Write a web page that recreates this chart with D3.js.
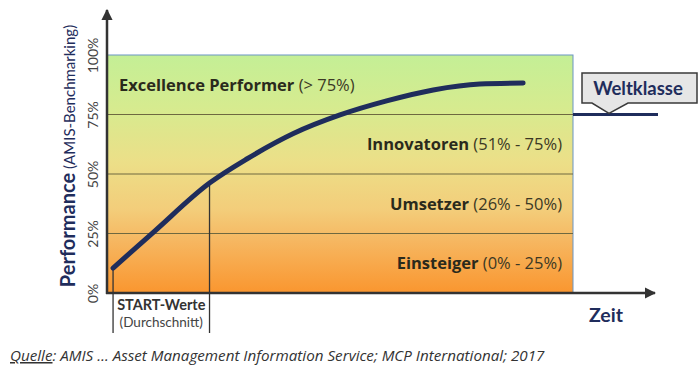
<!DOCTYPE html>
<html>
<head>
<meta charset="utf-8">
<script src="https://cdn.jsdelivr.net/npm/d3@7"></script>
<style>
  body { margin: 0; background: #fff; }
  svg { display: block; font-family: Lato, "Open Sans", sans-serif; }
</style>
</head>
<body>
<div id="chart"></div>
<script>
// performance curve over time (time in arbitrary units 0..10, performance in %)
const curveTime = [0.13, 1, 2.2, 3, 4, 5, 6, 7, 8, 8.93];
const curvePerf = [10.5, 25.6, 46.2, 56.3, 67.0, 74.8, 80.7, 85.3, 87.8, 88.2];

// performance bands (bottom to top)
const bandBounds = [0, 25, 50, 75, 100];
const bandNames = ["Einsteiger", "Umsetzer", "Innovatoren", "Excellence Performer"];
const bandRanges = ["(0% - 25%)", "(26% - 50%)", "(51% - 75%)", "(> 75%)"];

const yTicks = [0, 25, 50, 75, 100];
const startMarks = [0.13, 2.2];   // START-Werte bracket
const worldClass = 75;            // Weltklasse level

const width = 698, height = 376;
const plot = {left: 107, right: 573, top: 55, bottom: 293};
const navy = "#1f2d5c";
const openSans = "'Open Sans', Lato, sans-serif";

const svg = d3.select("#chart").append("svg")
  .attr("width", width)
  .attr("height", height);

const x = d3.scaleLinear().domain([0, 10]).range([plot.left, plot.right]);
const y = d3.scaleLinear().domain([0, 100]).range([plot.bottom, plot.top]);

// background gradient
const defs = svg.append("defs");
const grad = defs.append("linearGradient")
  .attr("id", "bg").attr("x1", 0).attr("y1", 0).attr("x2", 0).attr("y2", 1);
[["0%", "#c4ef96"], ["22%", "#d6eb8f"], ["45%", "#ecdf88"], ["65%", "#f3cd7a"],
 ["78%", "#f6b761"], ["100%", "#fa962f"]].forEach(function(s) {
  grad.append("stop").attr("offset", s[0]).attr("stop-color", s[1]);
});

defs.append("marker")
  .attr("id", "arrow")
  .attr("viewBox", "0 0 10 10")
  .attr("refX", 9).attr("refY", 5)
  .attr("markerWidth", 4.5).attr("markerHeight", 4.5)
  .attr("orient", "auto")
  .append("path")
  .attr("d", "M0,0 L10,5 L0,10 Z")
  .attr("fill", "#333");

svg.append("rect")
  .attr("x", x(0)).attr("y", y(100))
  .attr("width", x(10) - x(0)).attr("height", y(0) - y(100))
  .attr("fill", "url(#bg)")
  .attr("stroke", "#6b95c4").attr("stroke-width", 1);

// band separator lines
svg.selectAll(".band-line")
  .data(bandBounds.slice(1, -1))
  .enter().append("line")
  .attr("class", "band-line")
  .attr("x1", x(0)).attr("x2", x(10))
  .attr("y1", d => y(d)).attr("y2", d => y(d))
  .attr("stroke", "#6e6840").attr("stroke-width", 1);

// band labels
const labels = svg.selectAll(".band-label")
  .data(bandNames)
  .enter().append("text")
  .attr("class", "band-label")
  .attr("x", (d, i) => i == 3 ? x(0) + 12 : x(10) - 11)
  .attr("y", (d, i) => y((bandBounds[i] + bandBounds[i + 1]) / 2))
  .attr("dy", "0.35em")
  .attr("text-anchor", (d, i) => i == 3 ? "start" : "end")
  .attr("font-family", openSans)
  .attr("font-size", 16.5);
labels.append("tspan")
  .attr("font-weight", "bold").attr("fill", "#2a2a1c")
  .text(d => d);
labels.append("tspan")
  .attr("fill", "#3b3824")
  .text((d, i) => " " + bandRanges[i]);

// START-Werte bracket
svg.selectAll(".start-mark")
  .data(startMarks)
  .enter().append("line")
  .attr("class", "start-mark")
  .attr("x1", d => x(d)).attr("x2", d => x(d))
  .attr("y1", d => y(curvePerf[curveTime.indexOf(d)]))
  .attr("y2", 333)
  .attr("stroke", "#333").attr("stroke-width", 1.3);

const midStart = (x(startMarks[0]) + x(startMarks[1])) / 2;
svg.append("text")
  .attr("x", midStart).attr("y", 310)
  .attr("text-anchor", "middle")
  .attr("font-size", 14.5).attr("font-weight", "bold").attr("fill", "#333")
  .text("START-Werte");
svg.append("text")
  .attr("x", midStart).attr("y", 327)
  .attr("text-anchor", "middle")
  .attr("font-size", 13.5).attr("fill", "#444")
  .text("(Durchschnitt)");

// curve
const line = d3.line()
  .x((d, i) => x(curveTime[i]))
  .y(d => y(d))
  .curve(d3.curveMonotoneX);

svg.append("path")
  .datum(curvePerf)
  .attr("d", line)
  .attr("fill", "none")
  .attr("stroke", navy)
  .attr("stroke-width", 5)
  .attr("stroke-linecap", "round");

// axes with arrows
svg.append("line")
  .attr("x1", x(0)).attr("y1", y(0) + 1)
  .attr("x2", x(0)).attr("y2", 10)
  .attr("stroke", "#333").attr("stroke-width", 2.5)
  .attr("marker-end", "url(#arrow)");
svg.append("line")
  .attr("x1", x(0) - 1).attr("y1", y(0))
  .attr("x2", 655).attr("y2", y(0))
  .attr("stroke", "#333").attr("stroke-width", 2.5)
  .attr("marker-end", "url(#arrow)");

const yAxis = svg.append("g")
  .attr("transform", "translate(" + (x(0) - 9) + ",0)")
  .call(d3.axisLeft(y).tickValues(yTicks).tickFormat(d => d + "%").tickSize(0));
yAxis.select(".domain").remove();
yAxis.selectAll("text")
  .attr("x", 0).attr("y", 0).attr("dy", 0)
  .attr("transform", "rotate(-90)")
  .attr("text-anchor", "middle")
  .attr("font-family", "Lato, sans-serif")
  .attr("font-size", 14)
  .attr("fill", "#444");

// y title
const yTitle = svg.append("text")
  .attr("transform", "translate(75," + 156 + ") rotate(-90)")
  .attr("text-anchor", "middle")
  .attr("fill", navy);
yTitle.append("tspan").attr("font-size", 20).attr("font-weight", "bold").text("Performance");
yTitle.append("tspan").attr("font-size", 15).attr("dx", 4).text("(AMIS-Benchmarking)");

// x title
svg.append("text")
  .attr("x", 606).attr("y", 322)
  .attr("text-anchor", "middle")
  .attr("font-size", 19.5).attr("font-weight", "bold").attr("fill", navy)
  .text("Zeit");

// Weltklasse marker
svg.append("line")
  .attr("x1", x(10)).attr("x2", 658)
  .attr("y1", y(worldClass)).attr("y2", y(worldClass))
  .attr("stroke", navy).attr("stroke-width", 3);

const ty = y(worldClass) - 1, tx = 609;
svg.append("path")
  .attr("d", "M582,73 H697 V103 H" + (tx + 19) + " L" + tx + "," + ty +
    " L" + (tx - 17) + ",103 H582 Z")
  .attr("fill", "#e6e6e6")
  .attr("stroke", "#3a3a3a").attr("stroke-width", 1.5);
svg.append("text")
  .attr("x", 638).attr("y", 95)
  .attr("text-anchor", "middle")
  .attr("font-size", 18.5).attr("font-weight", "bold").attr("fill", navy)
  .text("Weltklasse");

// source
const src = svg.append("text")
  .attr("x", 10).attr("y", 361)
  .attr("font-family", openSans)
  .attr("font-size", 15.2).attr("font-style", "italic").attr("fill", "#333");
src.append("tspan").attr("text-decoration", "underline").text("Quelle");
src.append("tspan").text(": AMIS \u2026 Asset Management Information Service; MCP International; 2017");
</script>
</body>
</html>
